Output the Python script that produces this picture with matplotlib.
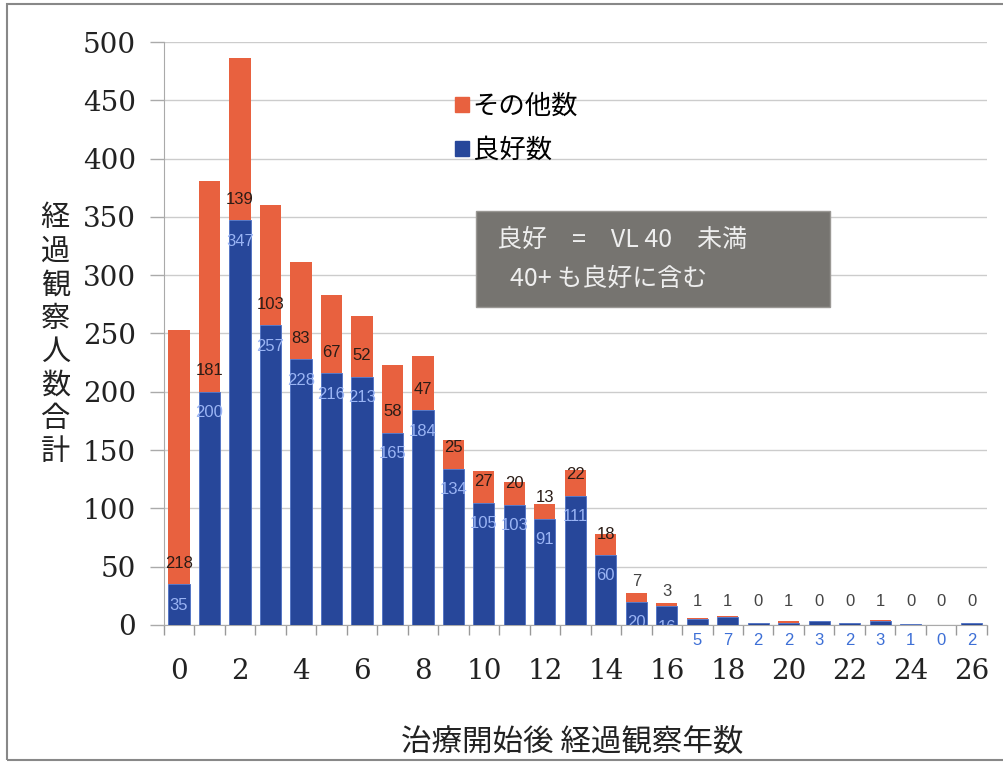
import matplotlib
matplotlib.use("Agg")
import matplotlib.pyplot as plt
from matplotlib.patches import Patch, Rectangle
import numpy as np

# Years since start of treatment
years = list(range(27))
# Patients with good outcome (VL < 40, including 40+)
good = [35, 200, 347, 257, 228, 216, 213, 165, 184, 134, 105, 103, 91, 111,
        60, 20, 16, 5, 7, 2, 2, 3, 2, 3, 1, 0, 2]
# Remaining patients
other = [218, 181, 139, 103, 83, 67, 52, 58, 47, 25, 27, 20, 13, 22,
         18, 7, 3, 1, 1, 0, 1, 0, 0, 1, 0, 0, 0]
yticks = [0, 50, 100, 150, 200, 250, 300, 350, 400, 450, 500]
xtick_labels = [str(v) for v in range(0, 27, 2)]

JP = ["Noto Sans CJK JP", "DejaVu Sans"]
SERIF = ["DejaVu Serif"]
BLUE = "#27479a"
RED = "#e8613f"

fig = plt.figure(figsize=(10.04, 7.64), dpi=100)
ax = fig.add_axes([0.163, 0.182, 0.82, 0.763])

x = np.arange(len(years))
good_a = np.array(good)
other_a = np.array(other)
ax.bar(x, good_a, width=0.7, color=BLUE, edgecolor="#4d70c4",
       linewidth=[0.6 if g > 0 else 0 for g in good], zorder=3)
ax.bar(x, other_a, width=0.7, bottom=good_a, color=RED, linewidth=0, zorder=3)

# value labels
for xi, g, o in zip(x, good_a, other_a):
    total = g + o
    if o >= 10:
        oy = g + 18
    else:
        oy = max(total + 10, 20)
    ax.text(xi, oy, str(o), ha="center", va="center", fontsize=12,
            color="#2a1c16" if o >= 10 else "#444444", family=["Liberation Sans"], zorder=5)
    if g >= 10:
        ax.text(xi, g - 18, str(g), ha="center", va="center", fontsize=12,
                color="#9ab4f4", family=["Liberation Sans"], zorder=5, clip_on=True)
    else:
        ax.text(xi, -13, str(g), ha="center", va="center", fontsize=12,
                color="#3d6fd6", family=["Liberation Sans"], zorder=5, clip_on=False)

ax.set_xlim(-0.5, len(years) - 0.5)
ax.set_ylim(0, 500)
ax.set_yticks(yticks)
ax.set_yticklabels([str(v) for v in yticks], family=SERIF, fontsize=20, color="#222222")
ax.set_xticks(list(range(0, 27, 2)))
ax.set_xticklabels(xtick_labels, family=SERIF, fontsize=20, color="#222222")
ax.set_xticks(np.arange(-0.5, len(years), 1.0), minor=True)
ax.tick_params(axis="x", which="major", length=0, pad=24)
ax.tick_params(axis="x", which="minor", length=7, color="#999999", width=1)
ax.tick_params(axis="y", length=10, color="#aaaaaa", width=1, pad=10)

ax.grid(axis="y", color="#cccccc", linewidth=1, zorder=0)
ax.set_axisbelow(True)
for s in ["top", "right"]:
    ax.spines[s].set_visible(False)
ax.spines["left"].set_color("#aaaaaa")
ax.spines["bottom"].set_color("#aaaaaa")

# axis titles
fig.text(0.055, 0.561, "\n".join("経過観察人数合計"), ha="center", va="center",
         fontsize=21, family=JP, linespacing=1.15, color="#222222")
fig.text(0.57, 0.029, "治療開始後 経過観察年数", ha="center", va="center",
         fontsize=22, family=JP, color="#222222")

# legend
handles = [Patch(color=RED, label="その他数"), Patch(color=BLUE, label="良好数")]
fig.legend(handles=handles, loc="upper left", bbox_to_anchor=(0.43, 0.91),
           frameon=False, prop={"family": JP, "size": 19}, handlelength=0.5,
           handleheight=0.5, handletextpad=0.15, labelspacing=0.65)

# note box
fig.patches.append(Rectangle((476 / 1004, 1 - 307 / 764), 354 / 1004, 96 / 764,
                             transform=fig.transFigure, facecolor="#767470",
                             edgecolor="#9a9894", linewidth=1, zorder=10))
fig.text(497 / 1004, 1 - 240 / 764, "良好　=　VL 40　未満", ha="left", va="center",
         fontsize=18, family=JP, color="#eeeeee", zorder=11)
fig.text(510 / 1004, 1 - 279 / 764, "40+ も良好に含む", ha="left", va="center",
         fontsize=18, family=JP, color="#eeeeee", zorder=11)

# outer frame
fig.patches.append(Rectangle((7 / 1004, 1 - 760 / 764), 1.1, 756 / 764,
                             transform=fig.transFigure, facecolor="none",
                             edgecolor="#888888", linewidth=1.5, zorder=0))

fig.savefig("out.png", dpi=100)
